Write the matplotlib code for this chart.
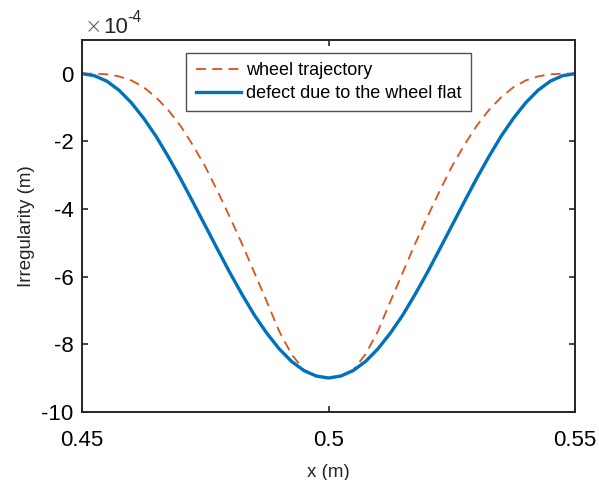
import matplotlib
matplotlib.use("Agg")
import matplotlib.pyplot as plt

plt.rcParams['font.family'] = ['Liberation Sans', 'DejaVu Sans']
plt.rcParams['axes.unicode_minus'] = False

# x positions (m)
x = [0.4500, 0.4525, 0.4550, 0.4575, 0.4600, 0.4625, 0.4650, 0.4675, 0.4700, 0.4725,
     0.4750, 0.4775, 0.4800, 0.4825, 0.4850, 0.4875, 0.4900, 0.4925, 0.4950, 0.4975,
     0.5000, 0.5025, 0.5050, 0.5075, 0.5100, 0.5125, 0.5150, 0.5175, 0.5200, 0.5225,
     0.5250, 0.5275, 0.5300, 0.5325, 0.5350, 0.5375, 0.5400, 0.5425, 0.5450, 0.5475,
     0.5500]

# wheel trajectory (x1e-4 m)
trajectory = [0.00, 0.00, -0.02, -0.08, -0.20, -0.40, -0.70, -1.08, -1.55, -2.12,
              -2.75, -3.48, -4.25, -5.05, -5.90, -6.75, -7.62, -8.30, -8.76, -8.95,
              -9.00, -8.95, -8.76, -8.30, -7.62, -6.75, -5.90, -5.05, -4.25, -3.48,
              -2.75, -2.12, -1.55, -1.08, -0.70, -0.40, -0.20, -0.08, -0.02, 0.00,
              0.00]

# defect due to the wheel flat (x1e-4 m)
defect = [0.00, -0.06, -0.22, -0.49, -0.86, -1.32, -1.85, -2.46, -3.11, -3.80,
          -4.50, -5.20, -5.89, -6.54, -7.15, -7.68, -8.14, -8.51, -8.78, -8.94,
          -9.00, -8.94, -8.78, -8.51, -8.14, -7.68, -7.15, -6.54, -5.89, -5.20,
          -4.50, -3.80, -3.11, -2.46, -1.85, -1.32, -0.86, -0.49, -0.22, -0.06,
          0.00]

xticks = [0.45, 0.5, 0.55]
xticklabels = ['0.45', '0.5', '0.55']
yticks = [-10, -8, -6, -4, -2, 0]

fig = plt.figure(figsize=(5.99, 4.80), dpi=100)
ax = fig.add_axes([0.137, 0.142, 0.823, 0.775])

ax.plot(x, trajectory, color='#D95319', lw=1.3, dashes=(5.5, 3.5),
        label='wheel trajectory')
ax.plot(x, defect, color='#0072BD', lw=2.4, label='defect due to the wheel flat')

ax.set_xlim(0.45, 0.55)
ax.set_ylim(-10, 1)
ax.set_xticks(xticks)
ax.set_xticklabels(xticklabels)
ax.set_yticks(yticks)
ax.set_yticklabels([str(v) for v in yticks])

dark = '#262626'
for s in ax.spines.values():
    s.set_color(dark)
    s.set_linewidth(1.4)
ax.tick_params(direction='in', length=4.5, width=1.2, colors=dark,
               labelsize=16, top=True, right=True)
ax.tick_params(axis='x', pad=13)
ax.tick_params(axis='y', pad=6)
for lab in ax.get_xticklabels() + ax.get_yticklabels():
    lab.set_color('black')

ax.set_xlabel('x (m)', fontsize=13.5, color=dark, labelpad=9.5)
ax.set_ylabel('Irregularity (m)', fontsize=13.5, color=dark, labelpad=5)

# exponent label like matlab
ax.annotate('\u00d7', xy=(0, 1), xycoords='axes fraction', xytext=(1.5, 5),
            textcoords='offset points', fontsize=15, ha='left', va='baseline',
            color='#555555', family='DejaVu Sans', weight='light')
ax.annotate('10', xy=(0, 1), xycoords='axes fraction', xytext=(15, 5),
            textcoords='offset points', fontsize=16, ha='left', va='baseline',
            color=dark)
ax.annotate('-4', xy=(0, 1), xycoords='axes fraction', xytext=(32.5, 13),
            textcoords='offset points', fontsize=11.3, ha='left', va='baseline',
            color=dark)

leg = ax.legend(loc='upper center', bbox_to_anchor=(0.5, 0.965), fontsize=13,
                frameon=True, fancybox=False, edgecolor=dark, handlelength=2.5,
                handletextpad=0.3, borderpad=0.5, labelspacing=0.35,
                borderaxespad=0)
leg.get_frame().set_linewidth(1.0)

fig.savefig('out.png', dpi=100)
